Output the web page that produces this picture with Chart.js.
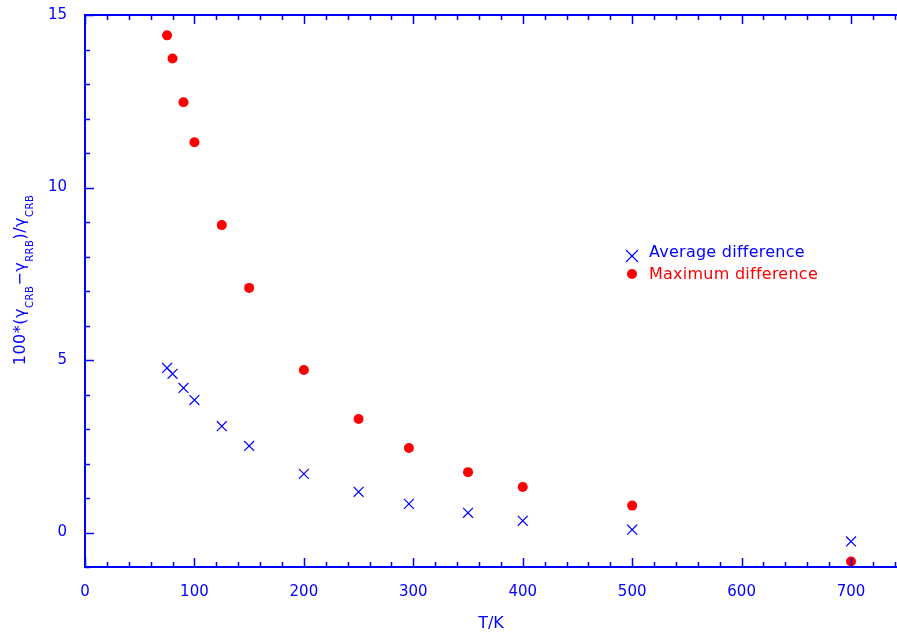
<!DOCTYPE html>
<html>
<head>
<meta charset="utf-8">
<script src="https://cdn.jsdelivr.net/npm/chart.js@4/dist/chart.umd.min.js"></script>
<style>
  html, body { margin: 0; padding: 0; background: #fff; }
  #wrap { width: 897px; height: 633px; }
</style>
</head>
<body>
<div id="wrap"><canvas id="chart" width="897" height="633"></canvas></div>
<script>
const temps = [75, 80, 90, 100, 125, 150, 200, 250, 296, 350, 400, 500, 700];
const avgDiff = [4.77, 4.60, 4.19, 3.84, 3.08, 2.51, 1.70, 1.18, 0.83, 0.57, 0.34, 0.08, -0.26];
const maxDiff = [14.41, 13.74, 12.47, 11.31, 8.91, 7.09, 4.71, 3.29, 2.45, 1.75, 1.32, 0.78, -0.84];
const xTickLabels = [0, 100, 200, 300, 400, 500, 600, 700];
const yTickLabels = [0, 5, 10, 15];

const BLUE = '#0000ff';
const RED = '#ff0000';
const FONT = 'DejaVu Sans';

// inward ticks, top axis line, axis titles and the legend
const decor = {
  id: 'decor',
  afterDraw(chart) {
    const { ctx, chartArea: a, scales: { x, y } } = chart;
    ctx.save();
    ctx.strokeStyle = BLUE;
    ctx.lineWidth = 2;
    ctx.beginPath();
    ctx.moveTo(a.left, a.top);
    ctx.lineTo(a.right, a.top);
    ctx.stroke();

    ctx.lineWidth = 1.5;
    ctx.beginPath();
    for (let v = 0; v <= 740; v += 20) {
      const px = Math.round(x.getPixelForValue(v)) + 0.5;
      const len = v % 100 === 0 ? 9 : 5;
      ctx.moveTo(px, a.bottom); ctx.lineTo(px, a.bottom - len);
      ctx.moveTo(px, a.top); ctx.lineTo(px, a.top + len);
    }
    for (let v = -1; v <= 15; v += 1) {
      const py = Math.round(y.getPixelForValue(v)) + 0.5;
      const len = v % 5 === 0 ? 9 : 5;
      ctx.moveTo(a.left, py); ctx.lineTo(a.left + len, py);
    }
    ctx.stroke();

    // x title
    ctx.fillStyle = BLUE;
    ctx.font = '16px "' + FONT + '"';
    ctx.textAlign = 'center';
    ctx.textBaseline = 'alphabetic';
    ctx.fillText('T/K', (a.left + a.right) / 2, 628);

    // y title with subscripts
    const parts = [
      ['100*(γ', false], ['CRB', true], ['−γ', false], ['RRB', true], [')/γ', false], ['CRB', true]
    ];
    const mainFont = '16px "' + FONT + '"';
    const subFont = '10px "' + FONT + '"';
    ctx.letterSpacing = '0.5px';
    let total = 0;
    parts.forEach(([t, sub]) => {
      ctx.font = sub ? subFont : mainFont;
      total += ctx.measureText(t).width;
    });
    ctx.translate(25, 280);
    ctx.rotate(-Math.PI / 2);
    ctx.textAlign = 'left';
    let cx = -total / 2;
    parts.forEach(([t, sub]) => {
      ctx.font = sub ? subFont : mainFont;
      ctx.fillText(t, cx, sub ? 8 : 0);
      cx += ctx.measureText(t).width;
    });
    ctx.restore();

    // legend
    ctx.save();
    ctx.font = '16px "' + FONT + '"';
    ctx.letterSpacing = '0.25px';
    ctx.textAlign = 'left';
    ctx.textBaseline = 'alphabetic';
    ctx.strokeStyle = BLUE;
    ctx.lineWidth = 1.2;
    ctx.beginPath();
    ctx.moveTo(626, 250); ctx.lineTo(638, 262);
    ctx.moveTo(638, 250); ctx.lineTo(626, 262);
    ctx.stroke();
    ctx.fillStyle = BLUE;
    ctx.fillText('Average difference', 649, 257);
    ctx.fillStyle = RED;
    ctx.beginPath();
    ctx.arc(632, 274, 5, 0, Math.PI * 2);
    ctx.fill();
    ctx.fillText('Maximum difference', 649, 279);
    ctx.restore();
  }
};

const ctx = document.getElementById('chart').getContext('2d');
new Chart(ctx, {
  type: 'scatter',
  data: {
    datasets: [
      {
        label: 'Average difference',
        data: temps.map((t, i) => ({ x: t, y: avgDiff[i] })),
        pointStyle: 'crossRot',
        pointRadius: 7,
        borderColor: BLUE,
        backgroundColor: BLUE,
        pointBorderWidth: 1.2,
        clip: false,
      },
      {
        label: 'Maximum difference',
        data: temps.map((t, i) => ({ x: t, y: maxDiff[i] })),
        pointStyle: 'circle',
        pointRadius: 5,
        borderColor: RED,
        backgroundColor: RED,
        pointBorderWidth: 0,
        clip: false,
      }
    ]
  },
  options: {
    responsive: false,
    animation: false,
    layout: { autoPadding: false, padding: { top: 15, right: 0, left: 0, bottom: 0 } },
    plugins: { legend: { display: false }, tooltip: { enabled: false } },
    scales: {
      x: {
        type: 'linear',
        min: 0,
        max: 742,
        afterFit: (s) => { s.height = 66; s.paddingLeft = 0; s.paddingRight = 0; },
        afterBuildTicks: (s) => { s.ticks = xTickLabels.map(v => ({ value: v })); },
        grid: { display: false, drawTicks: false },
        border: { display: true, color: BLUE, width: 2 },
        ticks: { color: BLUE, padding: 16, maxRotation: 0, font: { family: FONT, size: 15 } },
      },
      y: {
        type: 'linear',
        min: -1,
        max: 15,
        afterFit: (s) => { s.width = 85; s.paddingTop = 0; s.paddingBottom = 0; },
        afterBuildTicks: (s) => { s.ticks = yTickLabels.map(v => ({ value: v })); },
        grid: { display: false, drawTicks: false },
        border: { display: true, color: BLUE, width: 2 },
        ticks: { color: BLUE, padding: 18, font: { family: FONT, size: 15 } },
      }
    }
  },
  plugins: [decor]
});
</script>
</body>
</html>
